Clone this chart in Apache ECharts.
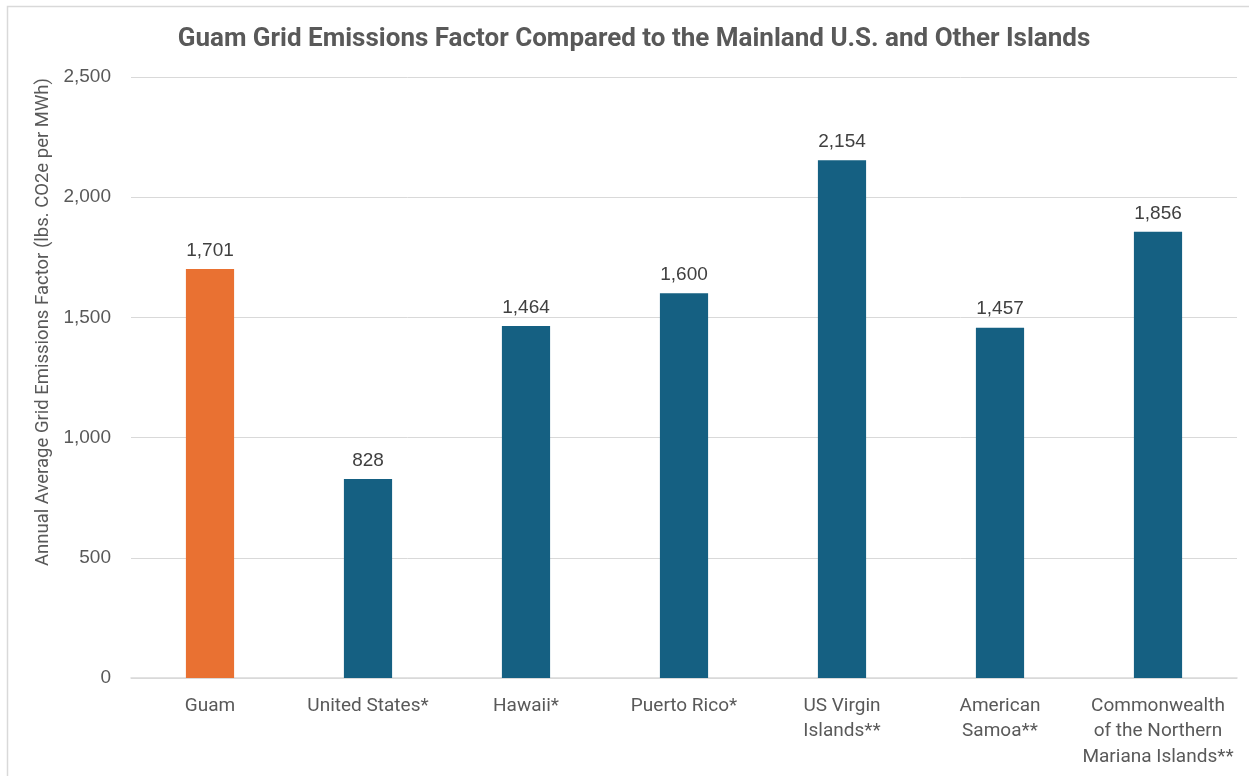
<!DOCTYPE html>
<html>
<head>
<meta charset="utf-8">
<script src="https://cdn.jsdelivr.net/npm/echarts@6/dist/echarts.min.js"></script>
<style>
  html, body { margin: 0; padding: 0; background: #fff; }
  #chart { width: 1249px; height: 776px; }
</style>
</head>
<body>
<div id="chart"></div>
<script>
// Grid emission factors, lbs. CO2e per MWh
const categories = ['Guam', 'United States*', 'Hawaii*', 'Puerto Rico*', 'US Virgin\nIslands**', 'American\nSamoa**', 'Commonwealth\nof the Northern\nMariana Islands**'];
const emissions = [1701, 828, 1464, 1600, 2154, 1457, 1856];
const barColors = ['#E97132', '#156082', '#156082', '#156082', '#156082', '#156082', '#156082'];
const yTicks = [0, 500, 1000, 1500, 2000, 2500];
const yAxisTitle = 'Annual Average Grid Emissions Factor (lbs. CO2e per MWh)';

const chart = echarts.init(document.getElementById('chart'), null, { renderer: 'canvas' });
const fmt = v => v.toLocaleString('en-US');

chart.setOption({
  animation: false,
  backgroundColor: '#ffffff',
  graphic: [
    {
      type: 'rect',
      shape: { x: 7.5, y: 6.5, width: 1260, height: 800 },
      style: { fill: 'none', stroke: '#d9d9d9', lineWidth: 1.5 },
      silent: true
    },
    {
      type: 'text',
      x: 43, y: 322, rotation: Math.PI / 2,
      style: {
        text: yAxisTitle, align: 'center', verticalAlign: 'middle',
        font: '18.5px Roboto', fill: '#595959'
      },
      silent: true
    }
  ],
  title: {
    text: 'Guam Grid Emissions Factor Compared to the Mainland U.S. and Other Islands',
    left: 629, top: 21, textAlign: 'center',
    textStyle: { fontFamily: 'Roboto', fontWeight: 'bold', fontSize: 26, color: '#595959' }
  },
  grid: { left: 131, right: 12, top: 77, bottom: 98, containLabel: false },
  xAxis: {
    type: 'category',
    data: categories,
    axisLine: { lineStyle: { color: '#d9d9d9', width: 1.5 } },
    axisTick: { show: false },
    axisLabel: { fontFamily: 'Roboto', fontSize: 19, color: '#595959', margin: 15, lineHeight: 25.5, interval: 0 }
  },
  yAxis: {
    type: 'value',
    min: yTicks[0], max: yTicks[yTicks.length - 1], interval: 500,
    axisLine: { show: false },
    axisTick: { show: false },
    axisLabel: { fontFamily: 'Liberation Sans', fontSize: 19, color: '#595959', margin: 20, formatter: v => fmt(v) },
    splitLine: { lineStyle: { color: '#d9d9d9', width: 1 } }
  },
  series: [{
    type: 'bar',
    barWidth: '30.5%',
    data: emissions.map((v, i) => ({ value: v, itemStyle: { color: barColors[i] } })),
    label: {
      show: true, position: 'top', distance: 9,
      fontFamily: 'Liberation Sans', fontSize: 19, color: '#404040',
      formatter: p => fmt(p.value)
    }
  }]
});
</script>
</body>
</html>
